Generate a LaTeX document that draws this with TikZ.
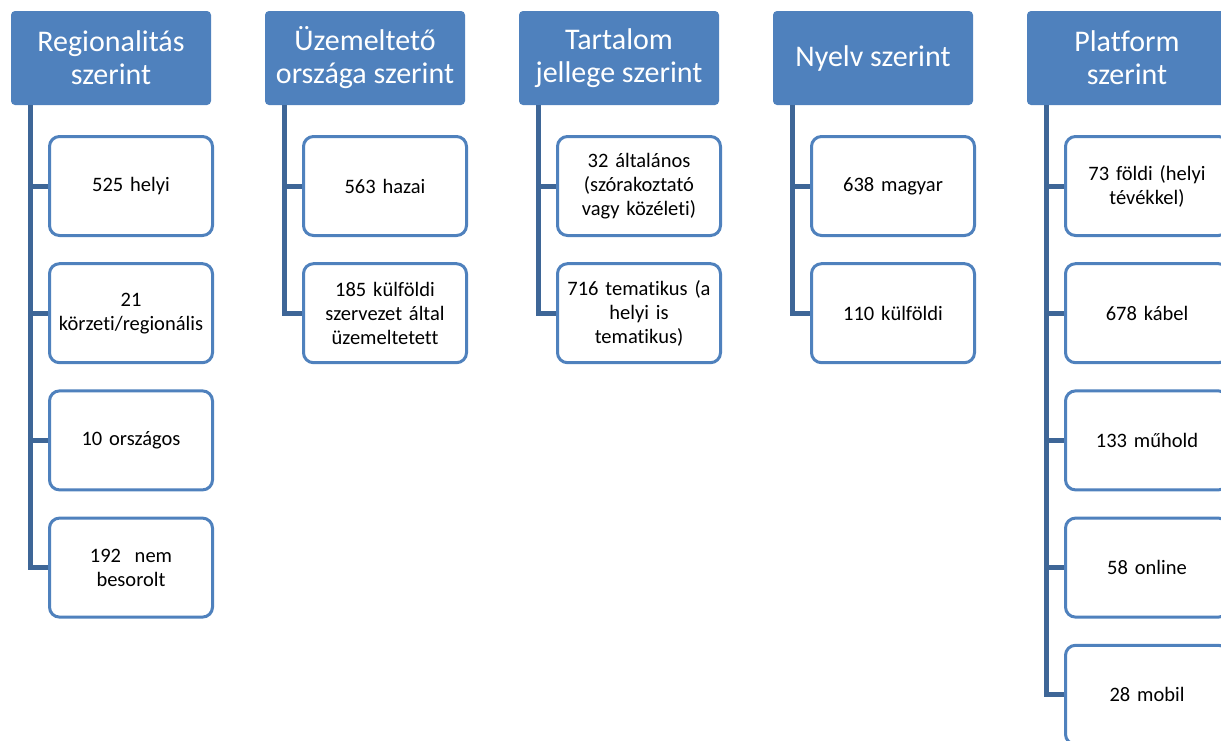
\documentclass[tikz,border=0pt]{standalone}
\usepackage{fontspec}
\setmainfont{Carlito}[Ligatures=NoCommon]
\usepackage{xcolor}
\usepackage{tikz}

\definecolor{hdblue}{HTML}{4F81BD}
\definecolor{lnblue}{HTML}{3E6697}

\tikzset{
	head/.style={fill=hdblue, rounded corners=4pt, minimum width=200pt, minimum height=94pt,
		inner sep=0pt, text=white, align=center, font=\fontsize{30}{33}\selectfont},
	item/.style={draw=hdblue, line width=3pt, fill=white, rounded corners=10pt,
		minimum width=163pt, minimum height=99pt, inner sep=0pt, text width=156pt,
		align=center, font=\fontsize{20.5}{24}\selectfont},
	branch/.style={draw=lnblue, line width=5pt}
}

\begin{document}
\begin{tikzpicture}[x=1pt,y=-1pt]
	\useasboundingbox (0,0) rectangle (1221,740);
	\clip (0,0) rectangle (1221,740);

	% fejlecek
	\foreach \i/\htext in {1/{Regionalitás\\szerint}, 2/{Üzemeltető\\országa szerint},
			3/{Tartalom\\jellege szerint}, 4/{Nyelv szerint}, 5/{Platform\\szerint}}
		\node[head] (h\i) at ({111+254*(\i-1)},58) {\htext};

	% elemek
	\foreach \i/\j/\ctext in {1/1/{525 helyi}, 1/2/{21\\körzeti/regionális}, 1/3/{10 országos},
			1/4/{192\ \ nem\\besorolt},
			2/1/{563 hazai}, 2/2/{185 külföldi\\szervezet által\\üzemeltetett},
			3/1/{32 általános\\(szórakoztató\\vagy közéleti)}, 3/2/{716 tematikus (a\\helyi is\\tematikus)},
			4/1/{638 magyar}, 4/2/{110 külföldi},
			5/1/{73 földi (helyi\\tévékkel)}, 5/2/{678 kábel}, 5/3/{133 műhold},
			5/4/{58 online}, 5/5/{28 mobil}}
	{
		\node[item] (h\i c\j) at ({131+254*(\i-1)},{186+127.2*(\j-1)}) {\ctext};
		\draw[branch] ([xshift=-81pt]h\i.south) |- (h\i c\j.west);
	}
\end{tikzpicture}
\end{document}
